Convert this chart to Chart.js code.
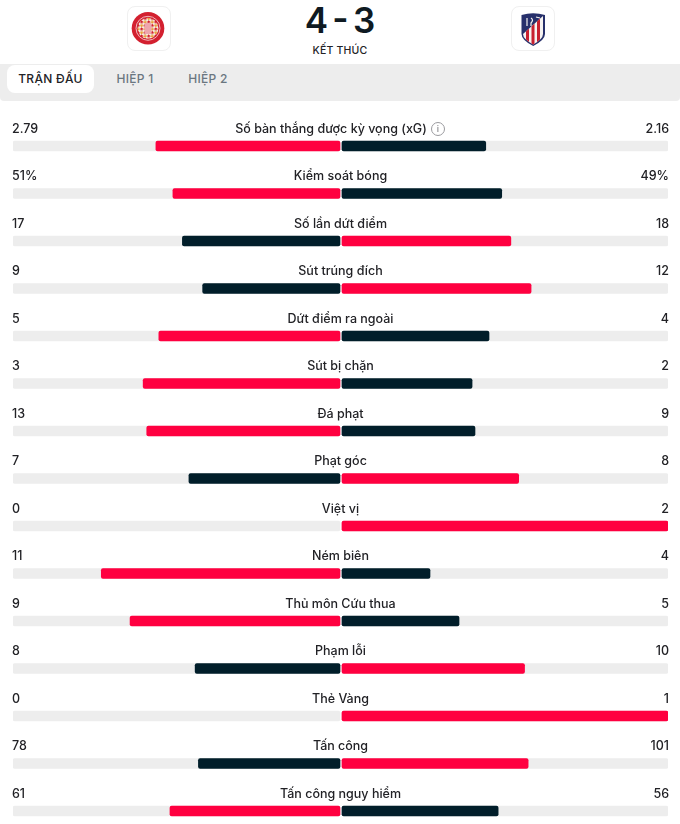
<!DOCTYPE html>
<html lang="vi">
<head>
<meta charset="utf-8">
<title>Thống kê trận đấu</title>
<script src="https://cdn.jsdelivr.net/npm/chart.js@4"></script>
<style>
    html, body { margin: 0; padding: 0; background: #fff; }
    body { width: 680px; height: 824px; overflow: hidden; position: relative; font-family: Inter, sans-serif; color: #222226; }
    .logo { position: absolute; top: 6px; width: 42px; height: 43px; border: 1px solid #f0f0f0; border-radius: 8px; box-sizing: content-box; }
    .logo svg { display: block; }
    #score { position: absolute; left: 0; width: 680px; top: -1px; text-align: center; font-size: 35px; line-height: 42px; font-weight: 600; color: #0f1a22; word-spacing: -4.5px; }
    #status { position: absolute; left: 0; width: 680px; top: 44px; text-align: center; font-size: 10.5px; line-height: 14px; font-weight: 500; letter-spacing: .2px; }
    #tabs { position: absolute; left: 0; top: 64px; width: 680px; height: 37px; background: #ededed; border-radius: 0 0 4px 4px; }
    .tab { position: absolute; top: 1px; height: 28px; line-height: 27px; text-align: center; font-size: 12px; font-weight: 500; letter-spacing: .3px; color: #6a7680; }
    .tab.active { left: 7px; width: 87px; background: #fff; border-radius: 8px; color: #222226; }
    #wrap { position: absolute; left: 0; top: 0; width: 680px; height: 840px; }
</style>
</head>
<body>
<div class="logo" style="left:127px">
    <svg width="42" height="43" viewBox="0 0 42 43">
        <defs>
            <pattern id="checks" width="5" height="5" patternUnits="userSpaceOnUse" patternTransform="rotate(45 20 21)">
                <rect width="5" height="5" fill="#f6ece2"/>
                <rect width="2.500" height="2.500" fill="#d3202f"/>
                <rect x="2.500" y="2.500" width="2.500" height="2.500" fill="#e9a23b"/>
            </pattern>
        </defs>
        <circle cx="20" cy="21.300" r="16.300" fill="#d3202f"/>
        <circle cx="20" cy="21.300" r="12" fill="none" stroke="#f0b8bd" stroke-width="1"/>
        <circle cx="20" cy="21.300" r="10.500" fill="url(#checks)"/>
        <rect x="16.500" y="16" width="7" height="11" rx="1" fill="#eea6ad"/>
    </svg>
</div>
<div class="logo" style="left:511px">
    <svg width="42" height="43" viewBox="0 0 42 43">
        <defs>
            <clipPath id="lower"><path d="M11 27L31 9V27Q31 32 21.200 37.500Q11 32 11 27z"/></clipPath>
        </defs>
        <path d="M9.500 8Q21 4.500 33 8V27Q33 33 21.200 39Q9.500 33 9.500 27z" fill="#27306b"/>
        <g clip-path="url(#lower)">
            <rect x="10" y="8" width="22" height="31" fill="#f6f3f1"/>
            <rect x="14" y="8" width="3" height="31" fill="#c8202f"/>
            <rect x="19.500" y="8" width="3" height="31" fill="#c8202f"/>
            <rect x="25" y="8" width="3" height="31" fill="#c8202f"/>
        </g>
        <path d="M15 11v8M19 11q3 2 0 5v3M24 10l4 1" stroke="#f6f3f1" stroke-width="1.200" fill="none"/>
    </svg>
</div>
<div id="score">4 - 3</div>
<div id="status">KẾT THÚC</div>
<div id="tabs">
    <div class="tab active">TRẬN ĐẤU</div>
    <div class="tab" style="left:105px;width:60px">HIỆP 1</div>
    <div class="tab" style="left:178px;width:60px">HIỆP 2</div>
</div>
<div id="wrap"><canvas id="chart"></canvas></div>

<script>
const categories = ['Số bàn thắng được kỳ vọng (xG)', 'Kiểm soát bóng', 'Số lần dứt điểm', 'Sút trúng đích', 'Dứt điểm ra ngoài', 'Sút bị chặn', 'Đá phạt', 'Phạt góc', 'Việt vị', 'Ném biên', 'Thủ môn Cứu thua', 'Phạm lỗi', 'Thẻ Vàng', 'Tấn công', 'Tấn công nguy hiểm'];
const homeValues = [2.79, 51, 17, 9, 5, 3, 13, 7, 0, 11, 9, 8, 0, 78, 61];
const awayValues = [2.16, 49, 18, 12, 4, 2, 9, 8, 2, 4, 5, 10, 1, 101, 56];
const units = ['', '%', '', '', '', '', '', '', '', '', '', '', '', '', ''];
// bar lengths, part of each half track
const homeShares = [0.563, 0.511, 0.482, 0.420, 0.554, 0.602, 0.591, 0.462, 0, 0.730, 0.642, 0.443, 0, 0.433, 0.520];
const awayShares = [0.441, 0.490, 0.518, 0.580, 0.451, 0.399, 0.408, 0.542, 1, 0.270, 0.359, 0.560, 1, 0.571, 0.479];

const RED = '#ff0040';
const DARK = '#011e2a';
const TRACK = '#ededed';
const GAP = 0.003; // 1px each side of the middle
const MAX_X = 0.997;

// values above the bars and the little info icon on the first row
const rowText = {
    id: 'rowText',
    afterDatasetsDraw(chart) {
        const c = chart.ctx;
        const y = chart.scales.y;
        c.save();
        c.font = '550 12.5px Inter';
        c.fillStyle = '#222226';
        c.textBaseline = 'middle';
        categories.forEach(function (name, i) {
            const py = y.getPixelForValue(i) - 17;
            c.textAlign = 'left';
            c.fillText(homeValues[i] + units[i], 12, py);
            c.textAlign = 'right';
            c.fillText(awayValues[i] + units[i], 669, py);
            c.textAlign = 'center';
            if (i === 0) {
                c.fillText(name, 331, py);
                c.strokeStyle = '#9a9a9e';
                c.beginPath();
                c.arc(438, py, 6.5, 0, Math.PI * 2);
                c.stroke();
                c.save();
                c.font = '500 9px Inter';
                c.fillStyle = '#8a8a8e';
                c.fillText('i', 438, py);
                c.restore();
            } else {
                c.fillText(name, 340.5, py);
            }
        });
        c.restore();
    }
};

var ctx = document.getElementById('chart').getContext('2d');
var chart = new Chart(ctx, {
    type: 'bar',
    plugins: [rowText],
    data: {
        labels: categories,
        datasets: [{
            label: 'Đội nhà',
            data: homeShares.map(function (s) { return s > 0 ? [-GAP - s * (1 - GAP), -GAP] : null; }),
            backgroundColor: homeValues.map(function (v, i) { return v > awayValues[i] ? RED : DARK; })
        }, {
            label: 'Đội khách',
            data: awayShares.map(function (s) { return s > 0 ? [GAP, GAP + s * (MAX_X - GAP)] : null; }),
            backgroundColor: awayValues.map(function (v, i) { return v > homeValues[i] ? RED : DARK; })
        }, {
            label: 'Nền trái',
            data: categories.map(function () { return [-1, -GAP]; }),
            backgroundColor: TRACK
        }, {
            label: 'Nền phải',
            data: categories.map(function () { return [GAP, MAX_X]; }),
            backgroundColor: TRACK
        }]
    },
    options: {
        indexAxis: 'y',
        responsive: true,
        maintainAspectRatio: false,
        animation: false,
        layout: { padding: { left: 13, right: 12, top: 122.25, bottom: 5.25 } },
        datasets: { bar: { grouped: false, barThickness: 10, borderRadius: 2, borderSkipped: false } },
        plugins: { legend: { display: false }, tooltip: { enabled: false } },
        scales: {
            x: { display: false, min: -1, max: MAX_X },
            y: { display: false }
        }
    }
});
</script>
</body>
</html>
